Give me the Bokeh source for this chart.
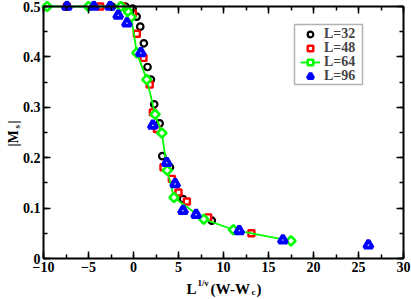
import math
from bokeh.plotting import figure
from bokeh.models import (LinearAxis, SingleIntervalTicker, Range1d, Label, Legend,
                          LegendItem, CustomJSTickFormatter, BoxAnnotation)
from bokeh.embed import file_html
from bokeh.resources import INLINE

# ---- data ----
L32_x = [-2.4, -0.9, -0.1, 0.35, 0.75, 1.15, 1.56, 1.93, 2.3, 2.9, 3.2, 4.05, 5.5, 8.7]
L32_y = [0.5, 0.5, 0.496, 0.48, 0.46, 0.427, 0.380, 0.355, 0.306, 0.268, 0.203, 0.181, 0.118, 0.075]

L48_x = [-7.4, -3.7, -1.3, -0.07, 0.37, 1.11, 1.8, 2.15, 2.6, 3.33, 4.26, 5.0, 5.93, 8.3, 13.1]
L48_y = [0.5, 0.5, 0.5, 0.486, 0.446, 0.398, 0.345, 0.290, 0.257, 0.181, 0.158, 0.131, 0.113, 0.0815, 0.050]

L64_x = [-9.6, -5.0, -1.4, -0.55, -0.26, 0.37, 1.48, 2.4, 3.15, 3.75, 4.5, 7.8, 11.1, 17.5]
L64_y = [0.5, 0.5, 0.5, 0.489, 0.479, 0.408, 0.355, 0.286, 0.249, 0.175, 0.121, 0.078, 0.057, 0.035]

L96_x = [-7.4, -4.4, -2.6, -1.7, -0.73, 0.82, 2.15, 3.7, 4.63, 5.5, 6.96, 11.75, 16.6, 26.1]
L96_y = [0.5, 0.5, 0.5, 0.4825, 0.467, 0.408, 0.264, 0.190, 0.148, 0.095, 0.087, 0.055, 0.0366, 0.0266]

series_labels = ["L=32", "L=48", "L=64", "L=96"]
x_lim = (-10, 30)
y_lim = (0, 0.5)
x_tick_interval = 5
y_tick_interval = 0.1

FONT = "Liberation Serif"

# ---- layout (pixels) ----
W, H = 411, 299
BOX_L, BOX_R, BOX_T, BOX_B = 43, 403, 6, 258
LEG_L, LEG_R, LEG_T, LEG_B = 294, 362, 24, 84
LEG_ROW0, LEG_ROW_STEP, LEG_ITEM_H = 33, 14, 18

sx = (x_lim[1] - x_lim[0]) / (BOX_R - BOX_L)
sy = (y_lim[1] - y_lim[0]) / (BOX_B - BOX_T)
xr = Range1d(x_lim[0] - BOX_L * sx, x_lim[1] + (W - BOX_R) * sx)
yr = Range1d(y_lim[0] - (H - BOX_B) * sy, y_lim[1] + BOX_T * sy)

p = figure(width=W, height=H, x_range=xr, y_range=yr,
           output_backend="svg", toolbar_location=None,
           min_border_left=0, min_border_right=0, min_border_top=0, min_border_bottom=0)
p.grid.visible = False
p.outline_line_color = None
p.background_fill_color = "white"
p.border_fill_color = "white"

yfmt = CustomJSTickFormatter(code="return Math.abs(tick) < 1e-9 ? '0' : tick.toFixed(1);")
nofmt = CustomJSTickFormatter(code="return '';")


def style_axis(ax, show_labels):
    ax.axis_line_width = 2
    ax.axis_line_color = "black"
    ax.major_tick_in = 7
    ax.major_tick_out = 0
    ax.minor_tick_in = 4
    ax.minor_tick_out = 0
    ax.major_tick_line_width = 1.5
    ax.minor_tick_line_width = 1.5
    ax.major_tick_line_color = "black"
    ax.minor_tick_line_color = "black"
    if show_labels:
        ax.major_label_text_font = FONT
        ax.major_label_text_font_style = "bold"
        ax.major_label_text_font_size = "14px"
        ax.major_label_text_color = "black"
        ax.major_label_standoff = 3
    else:
        ax.formatter = nofmt
        ax.major_label_text_color = None
        ax.major_label_standoff = 0


xb = p.xaxis[0]
xb.ticker = SingleIntervalTicker(interval=x_tick_interval, num_minor_ticks=2)
xb.fixed_location = y_lim[0]
xb.bounds = x_lim
style_axis(xb, True)

yl = p.yaxis[0]
yl.ticker = SingleIntervalTicker(interval=y_tick_interval, num_minor_ticks=2)
yl.formatter = yfmt
yl.fixed_location = x_lim[0]
yl.bounds = y_lim
style_axis(yl, True)

xt = LinearAxis(ticker=SingleIntervalTicker(interval=x_tick_interval, num_minor_ticks=2),
                fixed_location=y_lim[1], bounds=x_lim)
style_axis(xt, False)
p.add_layout(xt, "above")

yrt = LinearAxis(ticker=SingleIntervalTicker(interval=y_tick_interval, num_minor_ticks=2),
                 fixed_location=x_lim[1], bounds=y_lim)
style_axis(yrt, False)
p.add_layout(yrt, "right")

r32 = p.scatter(L32_x, L32_y, marker="circle", size=6.5, line_color="black", line_width=2.2,
                fill_color="white")
r48 = p.scatter(L48_x, L48_y, marker="square", size=6, line_color="#ff0000", line_width=2.4,
                fill_color="white")
l64 = p.line(L64_x, L64_y, line_color="#00ff00", line_width=1.8)
r64 = p.scatter(L64_x, L64_y, marker="square", angle=math.pi / 4, size=6.5,
                line_color="#00ff00", line_width=2.6, fill_color="white")
r96 = p.scatter(L96_x, L96_y, marker="triangle", size=8.5, line_color="#0000ff", line_width=3.8,
                fill_color="white")

# legend frame
p.add_layout(BoxAnnotation(left=LEG_L, right=LEG_R, top=H - LEG_T, bottom=H - LEG_B,
                           left_units="screen", right_units="screen",
                           top_units="screen", bottom_units="screen",
                           fill_color="white", fill_alpha=1.0,
                           line_color="black", line_width=1.5, level="annotation"))

# one legend per row so that rows can sit as close as in the reference
row_renderers = [[r32], [r48], [l64, r64], [r96]]
for i, (lbl, rends) in enumerate(zip(series_labels, row_renderers)):
    row_center = LEG_ROW0 + i * LEG_ROW_STEP
    lg = Legend(items=[LegendItem(label=lbl, renderers=rends)],
                location=(LEG_L + 6, H - (row_center + LEG_ITEM_H / 2)))
    lg.label_text_font = FONT
    lg.label_text_font_style = "bold"
    lg.label_text_font_size = "14px"
    lg.label_standoff = 4
    lg.glyph_width = 20
    lg.glyph_height = 14
    lg.label_height = 14
    lg.spacing = 0
    lg.padding = 0
    lg.margin = 0
    lg.border_line_color = None
    lg.background_fill_alpha = 0
    p.add_layout(lg)


def lab(text, px, py, size, angle=0.0):
    # px, py: pixel anchor measured from the top-left corner of the picture
    p.add_layout(Label(text=text, x=px, y=H - py, x_units="screen", y_units="screen",
                       text_font=FONT, text_font_style="bold", text_font_size=size,
                       text_color="black", text_align="left", text_baseline="alphabetic",
                       angle=angle))


# x axis label: L^{1/nu} (W-W_c)
lab("L", 186, 288, "15px")
lab("1/\u03bd", 197, 282, "9px")
lab("(W-W", 210, 288, "15px")
lab("c", 251, 291, "9px")
lab(")", 256, 288, "15px")

# y axis label: |M_s|
lab("|M", 13, 146, "14px", math.pi / 2)
lab("s", 16, 128, "9px", math.pi / 2)
lab("|", 13, 123, "14px", math.pi / 2)

open("out.html", "w").write(file_html(p, INLINE))
